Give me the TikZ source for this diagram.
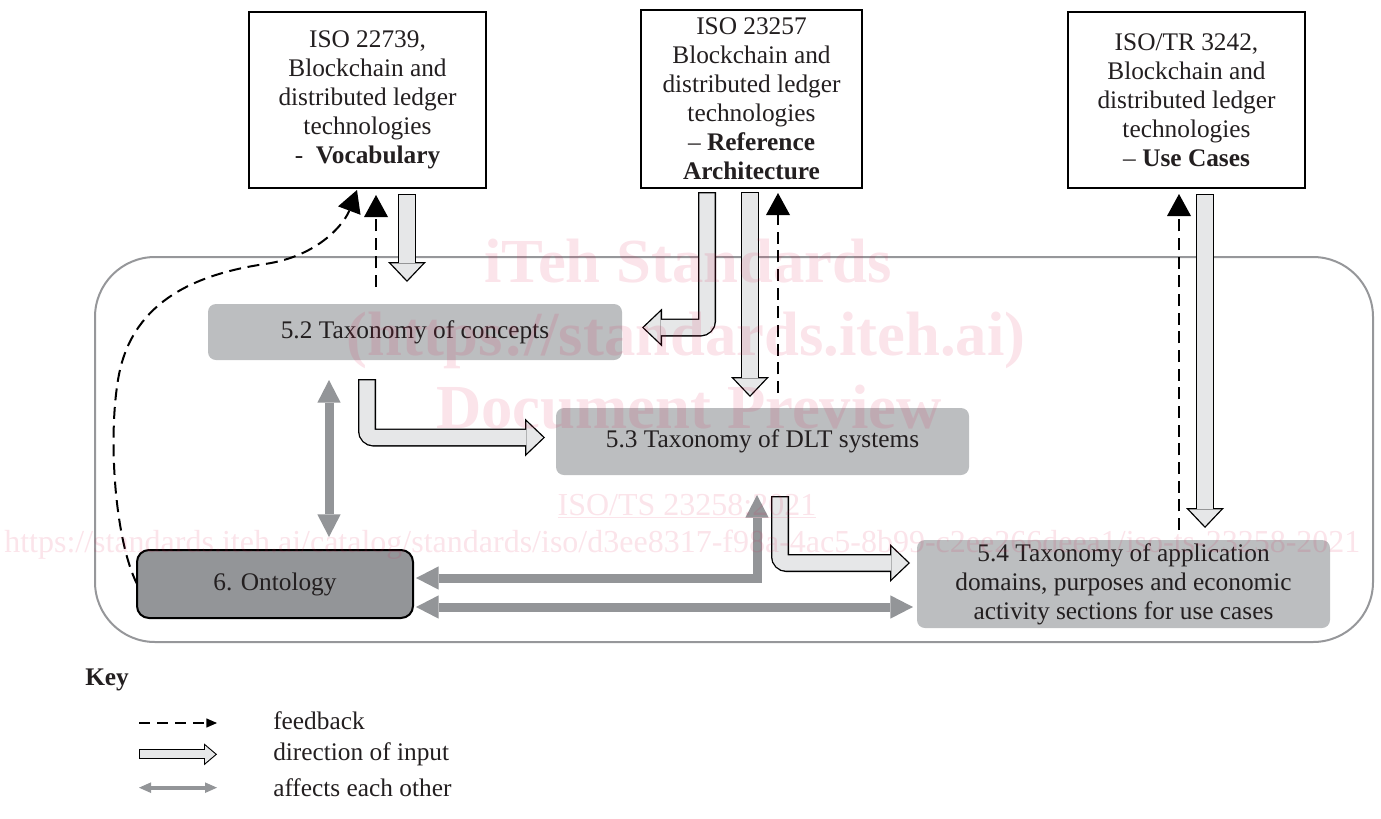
\documentclass[tikz,border=0pt]{standalone}
\usepackage{fontspec}
\setmainfont{Liberation Serif}
\usepackage{tikz}
\usetikzlibrary{arrows.meta, positioning, calc}
\definecolor{boxgray}{RGB}{188,190,192}
\definecolor{ontogray}{RGB}{147,149,152}
\definecolor{framegray}{RGB}{150,151,154}
\definecolor{inputgray}{RGB}{230,231,232}
\definecolor{inkblack}{RGB}{35,31,32}
\definecolor{markpink}{RGB}{220,30,80}
\newcommand\diagfont{\fontsize{19pt}{21.75pt}\selectfont}
\tikzset{
    frame/.style={rectangle, draw=framegray, line width=1.5pt, rounded corners=45pt, minimum width=958.5pt, minimum height=288.75pt, inner sep=0pt, outer sep=0pt},
    stdbox/.style={rectangle, draw=black, line width=1.5pt, fill=white, align=center, inner sep=0pt, outer sep=0pt, text=inkblack, font=\diagfont},
    taxbox/.style={rectangle, rounded corners=6pt, fill=boxgray, align=center, inner sep=0pt, outer sep=0pt, text=inkblack, font=\diagfont},
    ontobox/.style={taxbox, fill=ontogray, draw=black, line width=1.5pt, rounded corners=9pt},
    feedback/.style={draw=black, line width=1.5pt, dash pattern=on 9pt off 5pt, -{Triangle[length=16.5pt,width=18pt,line width=0pt]}},
    inedge/.style={draw=black, line width=13.5pt, -{Triangle[length=15pt,width=28.5pt,line width=0pt]}},
    infill/.style={draw=inputgray, line width=11.5pt, shorten <=1pt, shorten >=1.45pt, -{Triangle[length=12.55pt,width=23.84pt,line width=0pt]}},
    affect/.style={draw=ontogray, line width=6.75pt, >={Triangle[length=17pt,width=17.5pt,line width=0pt]}, <->},
    keyhead/.style={anchor=west, inner sep=0pt, font=\diagfont\bfseries, text=inkblack},
    keytext/.style={anchor=west, inner sep=0pt, font=\diagfont, text=inkblack},
    markbig/.style={anchor=base, inner sep=0pt, text=markpink, text opacity=0.12, font=\fontsize{47pt}{50pt}\selectfont\bfseries},
    marksmall/.style={inner sep=0pt, text=markpink, text opacity=0.12, font=\fontsize{24pt}{26pt}\selectfont}
}
% hollow input arrow: black outline pass, then light fill pass
\newcommand\inarrow[2][]{\draw[inedge,#1] #2; \draw[infill,#1] #2;}

\begin{document}
\begin{tikzpicture}[x=0.75pt, y=-0.75pt]
    \useasboundingbox (0,0) rectangle (1381,818);

    % Scope of the document
    \node[frame] (frame) at (734,449.5) {};

    % Related standards
    \node[stdbox, minimum width=177.75pt, minimum height=132pt] (voc) at (367.5,100) {ISO 22739,\\Blockchain and\\distributed ledger\\technologies\\-\ \ \textbf{Vocabulary}};
    \node[stdbox, minimum width=165.75pt, minimum height=133.5pt] (refarch) at (751.5,99) {ISO 23257\\Blockchain and\\distributed ledger\\technologies\\– \textbf{Reference}\\\textbf{Architecture}};
    \node[stdbox, minimum width=177.75pt, minimum height=132pt] (usecase) at (1186.5,100) {ISO/TR 3242,\\Blockchain and\\distributed ledger\\technologies\\– \textbf{Use Cases}};

    % Taxonomies and ontology
    \node[taxbox, minimum width=310.5pt, minimum height=42pt] (concepts) at (415,332) {5.2 Taxonomy of concepts};
    \node[taxbox, minimum width=309.75pt, minimum height=50.25pt] (dlt) at (762.5,441.5) {5.3 Taxonomy of DLT systems};
    \node[taxbox, minimum width=309.75pt, minimum height=66pt] (appdom) at (1123.5,584) {5.4 Taxonomy of application\\domains, purposes and economic\\activity sections for use cases};
    \node[ontobox, minimum width=207pt, minimum height=51pt] (onto) at (275,584) {6. Ontology};

    % Direction of input
    \inarrow{($(voc.south)+(39.5,6)$) -- ++(0,88)}
    \inarrow[rounded corners=5pt]{($(refarch.south)+(-44.5,4)$) |- ($(concepts.east)+(20,-4.5)$)}
    \inarrow{($(refarch.south)+(-1.5,4)$) -- ++(0,205)}
    \inarrow[rounded corners=5pt]{($(concepts.south)+(-48,19)$) |- ($(dlt.west)+(-11,-4)$)}
    \inarrow[rounded corners=5pt]{($(dlt.south)+(17.5,21)$) |- ($(appdom.west)+(-7,-21)$)}
    \inarrow{($(usecase.south)+(18.5,6)$) -- ++(0,334)}

    % Feedback
    \draw[feedback] ($(concepts.north)+(-39,-17)$) -- ($(voc.south)+(8.5,7)$);
    \draw[feedback] ($(dlt.north)+(15.5,-15)$) -- ($(refarch.south)+(26.5,5)$);
    \draw[feedback] ($(appdom.north)+(55.5,-10)$) -- ($(usecase.south)+(-7.5,6)$);
    \draw[feedback] (onto.west) .. controls (115,540) and (108,440) .. (118,380)
        .. controls (130,305) and (190,275) .. (265,264)
        .. controls (320,256) and (345,222) .. ($(voc.south)+(-10.5,2)$);

    % Affects each other
    \draw[affect] ($(concepts.south)+(-86,20)$) -- ($(onto.north)+(54,-13)$);
    \draw[affect] ($(onto.east)+(3,-6)$) -| ($(dlt.south)+(-5.5,20)$);
    \draw[affect] ($(onto.east)+(3,23)$) -- ($(appdom.west)+(-4,23)$);

    % Key
    \node[keyhead] (key) at (85,680) {Key};
    \node[keytext] (kfb) at (273,721) {feedback};
    \node[keytext, below=25pt of kfb.west, anchor=west] (kin) {direction of input};
    \node[keytext, below=25pt of kin.west, anchor=west] (kaf) {affects each other};
    \draw[draw=black, line width=1.5pt, dash pattern=on 8pt off 5.5pt, -{Triangle[length=8pt,width=7pt,line width=0pt]}] ($(kfb.west)+(-134,2)$) -- ($(kfb.west)+(-56,2)$);
    \draw[draw=black, line width=7.5pt, -{Triangle[length=9.75pt,width=16.5pt,line width=0pt]}] ($(kin.west)+(-134,0)$) -- ($(kin.west)+(-56,0)$);
    \draw[draw=inputgray, line width=5.9pt, shorten <=0.8pt, shorten >=1.24pt, -{Triangle[length=7.71pt,width=13.05pt,line width=0pt]}] ($(kin.west)+(-134,0)$) -- ($(kin.west)+(-56,0)$);
    \draw[draw=ontogray, line width=3pt, <->, >={Triangle[length=9pt,width=8pt,line width=0pt]}] ($(kaf.west)+(-134,0)$) -- ($(kaf.west)+(-56,0)$);

    % Watermark
    \node[markbig] (wm1) at (688,282) {iTeh Standards};
    \node[markbig] (wm2) at (686,355) {(https://standards.iteh.ai)};
    \node[markbig] (wm3) at (689,428) {Document Preview};
    \node[marksmall, anchor=base] (wm4) at (687,515) {\underline{ISO/TS 23258:2021}};
    \node[marksmall, anchor=base west] (wm5) at (4,552) {https://standards.iteh.ai/catalog/standards/iso/d3ee8317-f98a-4ac5-8b99-c2ee266deea1/iso-ts-23258-2021};
\end{tikzpicture}
\end{document}
